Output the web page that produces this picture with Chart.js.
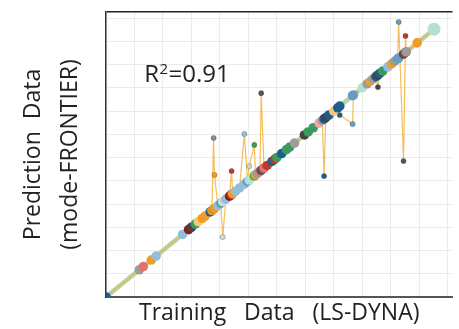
<!DOCTYPE html>
<html><head><meta charset="utf-8">
<script src="https://cdn.jsdelivr.net/npm/chart.js@4.4.1/dist/chart.umd.min.js"></script>
<style>html,body{margin:0;padding:0;background:#fff}#wrap{width:459px;height:329px}</style>
</head><body><div id="wrap"><canvas id="c" width="459" height="329"></canvas></div>
<script>
// Training values (x) and prediction values (y)
const training = [0.00,1.17,1.31,1.59,1.76,2.69,2.90,3.00,3.14,3.24,3.38,3.48,3.66,3.72,3.78,3.81,3.93,4.03,4.10,4.21,4.34,4.41,4.45,4.55,4.69,4.86,4.97,5.03,5.21,5.25,5.31,5.41,5.45,5.55,5.66,5.83,5.93,6.00,6.17,6.34,6.45,6.62,6.97,7.10,7.28,7.48,7.60,7.66,7.72,7.83,8.00,8.14,8.21,8.66,8.69,9.00,9.17,9.28,9.38,9.48,9.55,9.62,9.72,9.90,10.03,10.14,10.24,10.28,10.45,10.52,10.55,10.93,11.52];
const prediction = [0.00,1.17,1.31,1.59,1.76,2.69,2.90,3.00,3.14,3.24,3.38,3.48,3.66,3.72,6.84,5.25,3.93,4.03,2.58,4.21,4.34,5.42,4.45,4.55,4.69,7.01,4.97,5.63,6.54,5.25,5.31,5.41,8.77,5.55,5.66,5.83,5.93,6.00,6.17,6.34,6.45,6.62,6.97,7.10,7.28,7.48,7.60,5.20,7.72,7.83,8.00,8.14,7.83,7.44,8.69,9.00,9.17,9.28,9.38,9.48,9.03,9.62,9.72,9.90,10.03,10.14,10.24,11.83,5.85,11.23,10.55,10.93,11.52];
const pointColors = ['#1d5e8c','#9c9c9c','#e8706a','#f29b25','#91bfdb','#91bfdb','#8e1b1b','#444444','#3a9b5c','#f8c77e','#f29b25','#f29b25','#1d5e8c','#f29b25','#8c8c8c','#f29b25','#91bfdb','#5aa9a5','#d6d6d6','#91bfdb','#8e1b1b','#c0392b','#f29b25','#91bfdb','#91bfdb','#91bfdb','#6a9bc0','#b5e0cb','#3a9b5c','#f29b25','#9c9c9c','#e8706a','#555555','#e8706a','#c0392b','#1d5e8c','#c0392b','#3a9b5c','#1d5e8c','#3a9b5c','#3a9b5c','#9c9c9c','#444444','#3a9b5c','#3a9b5c','#f4a3a8','#9c9c9c','#1d5e8c','#444444','#1d5e8c','#f8c77e','#1d5e8c','#1d5e8c','#6a9bc0','#6a9bc0','#b5e0cb','#9c9c9c','#f29b25','#9c9c9c','#1d5e8c','#444444','#1d5e8c','#3a9b5c','#91bfdb','#f29b25','#9c9c9c','#5aa9a5','#6a9bc0','#555555','#c0392b','#9c9c9c','#f29b25','#b5e0cb'];
const gridSteps = [0,1,2,3,4,5,6,7,8,9,10,11,12];
const r2Parts = ['R', '2', '=0.91'];
const xAxisTitle = 'Training   Data   (LS-DYNA)';
const yAxisTitle = ['Prediction  Data', '(mode-FRONTIER)'];

const FONT = '"Open Sans", Lato, sans-serif';
const X_MAX = 12.17, Y_MAX = 12.26;

const r2Plugin = {
  id: 'r2',
  afterDatasetsDraw(chart) {
    const {ctx, scales: {x, y}} = chart;
    const px = x.getPixelForValue(1.34), py = y.getPixelForValue(9.25);
    ctx.save();
    ctx.fillStyle = '#222';
    ctx.textBaseline = 'alphabetic';
    ctx.font = '24px ' + FONT;
    ctx.fillText(r2Parts[0], px, py);
    let cx = px + ctx.measureText(r2Parts[0]).width + 0.5;
    ctx.font = '15px ' + FONT;
    ctx.fillText(r2Parts[1], cx, py - 8);
    cx += ctx.measureText(r2Parts[1]).width + 0.5;
    ctx.font = '24px ' + FONT;
    ctx.fillText(r2Parts[2], cx, py);
    ctx.restore();
  }
};

const last = training.length - 1;
new Chart(document.getElementById('c'), {
  type: 'line',
  data: {
    datasets: [
      {
        label: 'training',
        data: training.map(v => ({x: v, y: v})),
        showLine: false,
        pointRadius: c => c.dataIndex === last ? 6.5 : 4.8,
        pointBackgroundColor: pointColors,
        pointBorderWidth: 0,
        order: 1
      },
      {
        label: 'prediction',
        data: training.map((v, i) => ({x: v, y: prediction[i]})),
        borderColor: 'rgba(244,178,60,0.85)',
        borderWidth: 1.2,
        tension: 0,
        pointRadius: 2.6,
        pointBackgroundColor: pointColors,
        pointBorderColor: 'rgba(60,60,60,0.5)',
        pointBorderWidth: 0.6,
        order: 2
      },
      {
        label: 'diagonal',
        data: [{x: training[0], y: training[0]}, {x: training[last], y: training[last]}],
        borderColor: 'rgba(178,210,165,0.95)',
        borderWidth: 4.5,
        pointRadius: 0,
        order: 3
      }
    ]
  },
  options: {
    responsive: false,
    devicePixelRatio: 1,
    animation: false,
    layout: {padding: {top: 12, right: 0, left: 0, bottom: 0}},
    plugins: {legend: {display: false}, tooltip: {enabled: false}},
    scales: {
      x: {
        type: 'linear', min: 0, max: X_MAX,
        afterBuildTicks: s => { s.ticks = gridSteps.map(v => ({value: v})); },
        ticks: {display: false},
        grid: {color: '#ebebeb', lineWidth: 1, drawTicks: false},
        border: {color: '#555', width: 2},
        title: {display: true, text: xAxisTitle, color: '#222', font: {family: FONT, size: 23, lineHeight: 1.2}, padding: {top: 0, bottom: 2}},
        afterFit: s => { s.height = 32; }
      },
      y: {
        type: 'linear', min: 0, max: Y_MAX,
        afterBuildTicks: s => { s.ticks = gridSteps.concat([Y_MAX]).map(v => ({value: v})); },
        ticks: {display: false},
        grid: {color: c => (c.tick && c.tick.value > 12.1) ? '#222' : '#ebebeb', lineWidth: c => (c.tick && c.tick.value > 12.1) ? 1.5 : 1, drawTicks: false},
        border: {color: '#333', width: 1.5},
        title: {display: true, text: yAxisTitle, color: '#222', font: {family: FONT, size: 23, lineHeight: 1.65}, padding: {top: 14, bottom: 0}},
        afterFit: s => { s.width = 106; }
      }
    }
  },
  plugins: [r2Plugin]
});
</script></body></html>
